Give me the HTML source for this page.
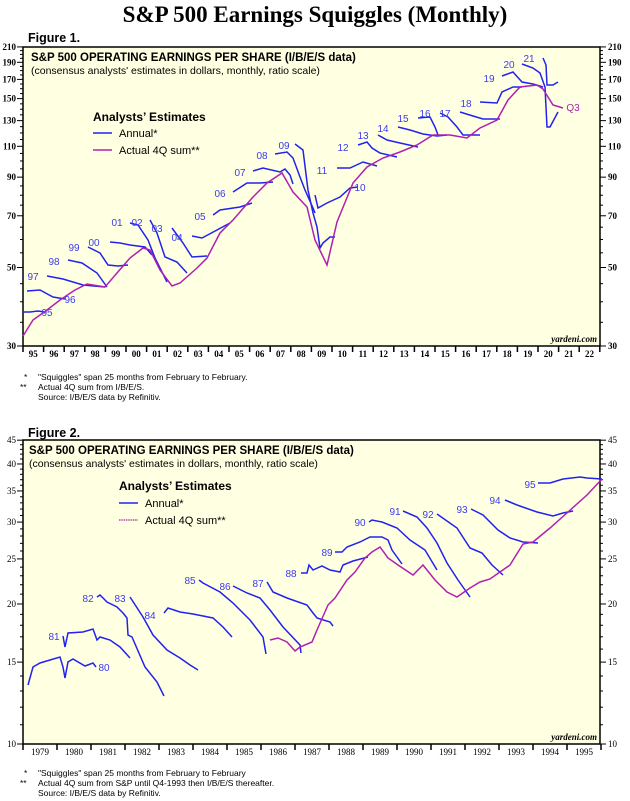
<!DOCTYPE html>
<html><head><meta charset="utf-8"><style>
body{margin:0;background:#fff;}
svg{display:block;}
text{font-family:"Liberation Sans",sans-serif;}
.s{font-family:"Liberation Serif",serif;}
</style></head><body>
<svg id="c" width="630" height="801" viewBox="0 0 630 801" xmlns="http://www.w3.org/2000/svg">
<text x="315" y="22" text-anchor="middle" class="s" font-size="23" font-weight="bold">S&amp;P 500 Earnings Squiggles (Monthly)</text>
<text x="28" y="42" font-size="12.5" font-weight="bold">Figure 1.</text>
<rect x="23" y="47" width="577" height="299" fill="#ffffe2" stroke="#000" stroke-width="1.5"/>
<text x="31" y="61" font-size="11.5" font-weight="bold">S&amp;P 500 OPERATING EARNINGS PER SHARE (I/B/E/S data)</text>
<text x="31" y="74" font-size="10.5">(consensus analysts' estimates in dollars, monthly, ratio scale)</text>
<text x="93" y="121" font-size="12" font-weight="bold">Analysts’ Estimates</text>
<line x1="93" y1="133" x2="112" y2="133" stroke="#2222ee" stroke-width="1.5"/>
<text x="119" y="137" font-size="11">Annual*</text>
<line x1="93" y1="150" x2="112" y2="150" stroke="#b020b0" stroke-width="1.5"/>
<text x="119" y="154" font-size="11">Actual 4Q sum**</text>
<text x="597" y="342" text-anchor="end" class="s" font-size="9" font-style="italic" font-weight="bold">yardeni.com</text>

<text x="28" y="437" font-size="12.5" font-weight="bold">Figure 2.</text>
<rect x="23" y="440" width="577" height="304" fill="#ffffe2" stroke="#000" stroke-width="1.5"/>
<text x="29" y="454" font-size="11.5" font-weight="bold">S&amp;P 500 OPERATING EARNINGS PER SHARE (I/B/E/S data)</text>
<text x="29" y="467" font-size="10.5">(consensus analysts' estimates in dollars, monthly, ratio scale)</text>
<text x="119" y="490" font-size="12" font-weight="bold">Analysts’ Estimates</text>
<line x1="119" y1="503" x2="138" y2="503" stroke="#2222ee" stroke-width="1.5"/>
<text x="145" y="507" font-size="11">Annual*</text>
<line x1="119" y1="520" x2="138" y2="520" stroke="#b020b0" stroke-width="1.3" stroke-dasharray="1.5,0.8"/>
<text x="145" y="524" font-size="11">Actual 4Q sum**</text>
<text x="597" y="740" text-anchor="end" class="s" font-size="9" font-style="italic" font-weight="bold">yardeni.com</text>

<g class="s" font-size="8.5" fill="#000">
<text x="24" y="380">*</text><text x="38" y="380">"Squiggles" span 25 months from February to February.</text>
<text x="20" y="390">**</text><text x="38" y="390">Actual 4Q sum from I/B/E/S.</text>
<text x="38" y="400">Source: I/B/E/S data by Refinitiv.</text>
<text x="24" y="776">*</text><text x="38" y="776">"Squiggles" span 25 months from February to February</text>
<text x="20" y="786">**</text><text x="38" y="786">Actual 4Q sum from S&amp;P until Q4-1993 then I/B/E/S thereafter.</text>
<text x="38" y="796">Source: I/B/E/S data by Refinitiv.</text>
</g>
<g id="g"></g>
</svg>
<script>
var g=document.getElementById('g'),h='';
function ln(x1,y1,x2,y2,w){h+='<line x1="'+x1+'" y1="'+y1+'" x2="'+x2+'" y2="'+y2+'" stroke="#000" stroke-width="'+(w||1)+'"/>';}
function tx(x,y,t,a,fs,c,cls,fw){h+='<text x="'+x+'" y="'+y+'" text-anchor="'+(a||'start')+'" font-size="'+(fs||9)+'" fill="'+(c||'#000')+'"'+(cls?' class="'+cls+'"':'')+(fw?' font-weight="'+fw+'"':'')+'>'+t+'</text>';}
function y1(v){return 346-153.7*Math.log(v/30);}
function y2(v){return 744-202*Math.log(v/10);}
for(var v=30;v<=210;v+=5){var y=y1(v),maj=(v-30)%20==0;ln(23-(maj?6:3),y,23,y);ln(600,y,600+(maj?6:3),y);
 if(maj){tx(16,y+3,v,'end',9,'#000','s','bold');tx(608,y+3,v,'start',9,'#000','s','bold');}}
for(var i=0;i<=28;i++){var x=23+i*20.6;ln(x,346,x,352,1.5);if(i<28){var yy=(95+i)%100;tx(x+10.3,357,(yy<10?'0':'')+yy,'middle',9,'#000','s','bold');}}
for(var v=10;v<=45;v+=1){var y=y2(v),maj=v%5==0;ln(23-(maj?6:3),y,23,y);ln(600,y,600+(maj?6:3),y);
 if(maj){tx(16,y+3,v,'end',9,'#000','s');tx(608,y+3,v,'start',9,'#000','s');}}
for(var i=0;i<=17;i++){var x=23+i*34;ln(x,744,x,750,1.5);if(i<17)tx(x+17,755,1979+i,'middle',9,'#000','s');}
function pl(p,c,dash){h+='<polyline points="'+p+'" fill="none" stroke="'+c+'" stroke-width="1.5"'+(dash?' stroke-dasharray="'+dash+'"':'')+'/>';}
var B='#2222ee',M='#b020b0',L='#3b3bee';
[
"24,312 30,312 38,311 45,312",
"27,291 40,290 53,297 65,299",
"47,276 63,279 83,285 105,287",
"68,260 82,263 97,273 107,287",
"88,247 100,253 108,265 118,266 128,265",
"110,242 120,243 130,245 145,247 152,255",
"130,223 138,225 148,240 155,258 167,282",
"150,220 157,233 165,257 177,262 187,273",
"172,228 183,243 192,257 207,256",
"192,236 202,238 217,230 230,223",
"213,215 220,210 240,207 252,203",
"233,192 247,183 260,183 273,182",
"253,171 263,168 280,172 285,169 290,175 293,184",
"275,154 287,152 293,158 300,177 305,190 313,208 315,213",
"295,144 303,150 308,190 313,213 317,227 320,248 323,243 330,237 335,237",
"315,195 318,208 327,203 340,197 350,188 358,187",
"337,168 350,168 363,162 377,166",
"358,145 367,142 372,148 380,153 397,157",
"378,135 387,140 400,143 418,147",
"398,127 410,130 423,134 437,136 447,135",
"418,118 430,117 435,127 438,135",
"440,113 448,117 457,127 463,135 480,135",
"460,112 473,116 483,119 500,119",
"480,102 497,103 502,92 513,87 522,87",
"502,76 513,72 522,82 533,84 543,87",
"522,64 533,68 540,73 545,87 547,127 550,127 558,112",
"543,58 546,65 547,85 553,85 558,82"
].forEach(function(p){pl(p,B);});
pl("23,336 33,320 47,310 60,300 75,290 87,284 105,287 117,273 130,258 143,248 150,250 160,270 172,286 180,283 197,268 207,258 220,233 233,220 253,197 267,183 282,173 293,192 307,207 315,240 327,265 337,222 353,183 367,167 383,158 400,152 417,145 433,135 450,135 467,138 480,128 497,120 508,100 520,87 537,85 543,89 553,105 563,108",M);
[["95",47,316],["96",70,303],["97",33,280],["98",54,265],["99",74,251],["00",94,246],["01",117,226],["02",137,226],["03",157,232],["04",177,241],["05",200,220],["06",220,197],["07",240,176],["08",262,159],["09",284,149],["10",360,191],["11",322,174],["12",343,151],["13",363,139],["14",383,132],["15",403,122],["16",425,117],["17",445,117],["18",466,107],["19",489,82],["20",509,68],["21",529,62]].forEach(function(a){tx(a[1],a[2],a[0],'middle',10,L);});
tx(573,111,'Q3','middle',10,M);
[
"28,685 33,667 40,663 50,660 60,657 63,667 65,678 68,662 73,659 85,666 93,663 96,667",
"63,636 65,647 68,633 83,632 93,629 97,640 100,637 110,640 120,647 130,658",
"97,597 100,595 107,602 117,607 123,613 127,618 128,635 132,637 145,667 157,682 164,696",
"130,597 143,617 153,635 167,650 180,658 190,665 198,670",
"164,613 168,608 180,612 193,614 213,618 223,627 232,637",
"199,580 203,583 220,592 233,603 250,620 263,637 266,654",
"233,586 247,593 260,598 270,610 283,627 300,645 301,653",
"267,582 273,592 287,598 307,605 313,613 317,618 330,622 333,626",
"301,573 307,573 309,565 313,570 322,566 330,570 340,572 343,565 353,561 368,557",
"335,552 342,552 347,547 360,542 370,537 382,537 388,540 392,550 402,564",
"369,522 372,520 382,522 397,528 410,540 425,550 437,570",
"403,511 417,517 427,528 437,543 447,563 458,580 470,597",
"437,514 457,528 470,548 482,553 492,565 503,575",
"471,509 483,515 498,530 510,538 523,542 538,543",
"505,500 517,505 537,512 553,516 563,513 573,511",
"538,483 550,483 563,479 580,477 587,478 602,479"
].forEach(function(p){pl(p,B);});
pl("270,640 278,638 287,642 295,651 300,647 312,642 317,630 328,605 335,598 347,580 355,572 365,558 372,552 380,547 388,558 398,565 413,575 423,565 435,580 447,592 457,597 470,588 480,582 490,579 500,572 510,565 523,544 533,542 550,528 568,512 587,495 602,479",M);
[["80",104,671],["81",54,640],["82",88,602],["83",120,602],["84",150,619],["85",190,584],["86",225,590],["87",258,587],["88",291,577],["89",327,556],["90",360,526],["91",395,515],["92",428,518],["93",462,513],["94",495,504],["95",530,488]].forEach(function(a){tx(a[1],a[2],a[0],'middle',10,L);});
g.innerHTML=h;
</script>
</body></html>
